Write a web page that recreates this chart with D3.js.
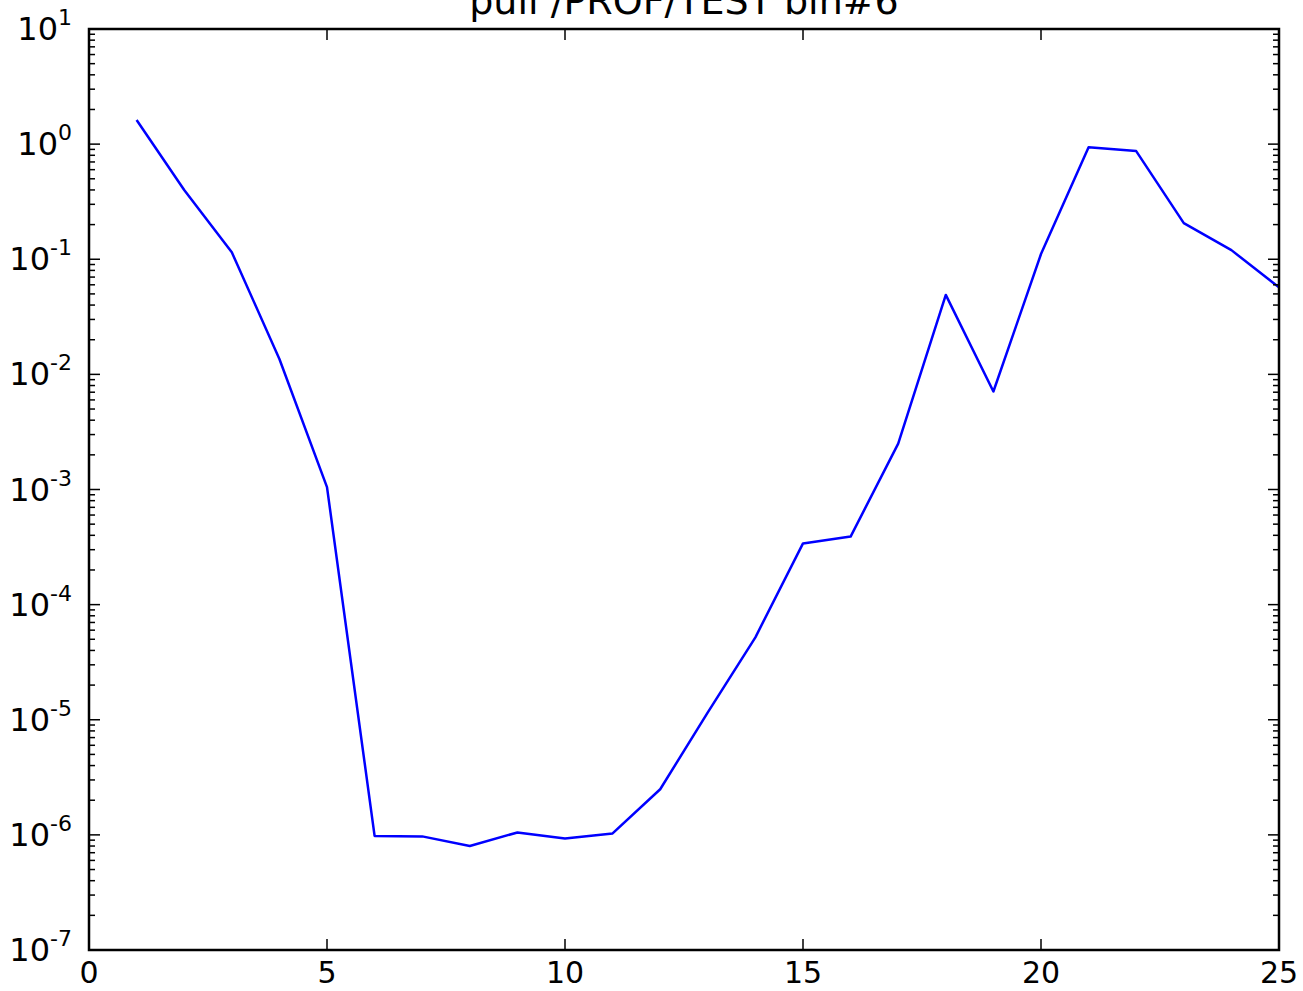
<!DOCTYPE html>
<html>
<head>
<meta charset="utf-8">
<script src="https://cdn.jsdelivr.net/npm/d3@7"></script>
<style>
  html, body { margin: 0; padding: 0; background: #fff; }
  svg { display: block; }
  text { font-family: "DejaVu Sans", sans-serif; fill: #000; }
</style>
</head>
<body>
<div id="chart"></div>
<script>
const title = "pull /PROF/TEST bin#6";
const xValues = [1, 2, 3, 4, 5, 6, 7, 8, 9, 10, 11, 12, 13, 14, 15, 16, 17, 18, 19, 20, 21, 22, 23, 24, 25];
const yValues = [1.62, 0.40, 0.115, 0.0136, 1.05e-3, 0.98e-6, 0.97e-6, 0.80e-6, 1.05e-6, 0.93e-6, 1.03e-6,
                 2.49e-6, 1.16e-5, 5.2e-5, 3.4e-4, 3.9e-4, 2.5e-3, 0.049, 7.1e-3, 0.111, 0.94, 0.87, 0.206, 0.12, 0.057];
const xTicks = [0, 5, 10, 15, 20, 25];
const yTickExponents = [-7, -6, -5, -4, -3, -2, -1, 0, 1];

const W = 1303, H = 991;
const m = { left: 89, right: 1279, top: 29, bottom: 950 };

const svg = d3.select("#chart").append("svg").attr("width", W).attr("height", H);

const x = d3.scaleLinear().domain([0, 25]).range([m.left, m.right]);
const y = d3.scaleLog().domain([1e-7, 1e1]).range([m.bottom, m.top]);

const minor = [];
for (let e = -7; e < 1; e++) for (let k = 2; k <= 9; k++) minor.push(k * Math.pow(10, e));

const g = svg.append("g");
svg.append("clipPath").attr("id", "clip").append("rect")
  .attr("x", m.left).attr("y", m.top).attr("width", m.right - m.left).attr("height", m.bottom - m.top);

const line = d3.line().x((d, i) => x(xValues[i])).y(d => y(d));
g.append("path").datum(yValues)
  .attr("d", line).attr("fill", "none").attr("stroke", "#0000ff").attr("stroke-width", 2.5)
  .attr("stroke-linejoin", "round")
  .attr("clip-path", "url(#clip)");

const tk = svg.append("g").attr("stroke", "#000").attr("stroke-width", 1.5);
xTicks.forEach(v => {
  tk.append("line").attr("x1", x(v)).attr("x2", x(v)).attr("y1", m.bottom).attr("y2", m.bottom - 11);
  tk.append("line").attr("x1", x(v)).attr("x2", x(v)).attr("y1", m.top).attr("y2", m.top + 11);
});
yTickExponents.forEach(e => {
  const v = Math.pow(10, e);
  tk.append("line").attr("x1", m.left).attr("x2", m.left + 11).attr("y1", y(v)).attr("y2", y(v));
  tk.append("line").attr("x1", m.right).attr("x2", m.right - 11).attr("y1", y(v)).attr("y2", y(v));
});
minor.forEach(v => {
  tk.append("line").attr("x1", m.left).attr("x2", m.left + 6).attr("y1", y(v)).attr("y2", y(v));
  tk.append("line").attr("x1", m.right).attr("x2", m.right - 6).attr("y1", y(v)).attr("y2", y(v));
});

svg.append("rect").attr("x", m.left).attr("y", m.top)
  .attr("width", m.right - m.left).attr("height", m.bottom - m.top)
  .attr("fill", "none").attr("stroke", "#000").attr("stroke-width", 2.5);

svg.append("g").selectAll("text").data(xTicks).join("text")
  .attr("x", d => x(d)).attr("y", m.bottom + 33)
  .attr("text-anchor", "middle").attr("font-size", 30).text(d => d);

const yl = svg.append("g").selectAll("text").data(yTickExponents).join("text")
  .attr("x", 72).attr("y", d => y(Math.pow(10, d)) + 11)
  .attr("text-anchor", "end").attr("font-size", 32);
yl.append("tspan").text("10");
yl.append("tspan").attr("font-size", 22).attr("dy", -15).text(d => d);

svg.append("text").attr("x", (m.left + m.right) / 2).attr("y", 14)
  .attr("text-anchor", "middle").attr("font-size", 38).text(title);
</script>
</body>
</html>
